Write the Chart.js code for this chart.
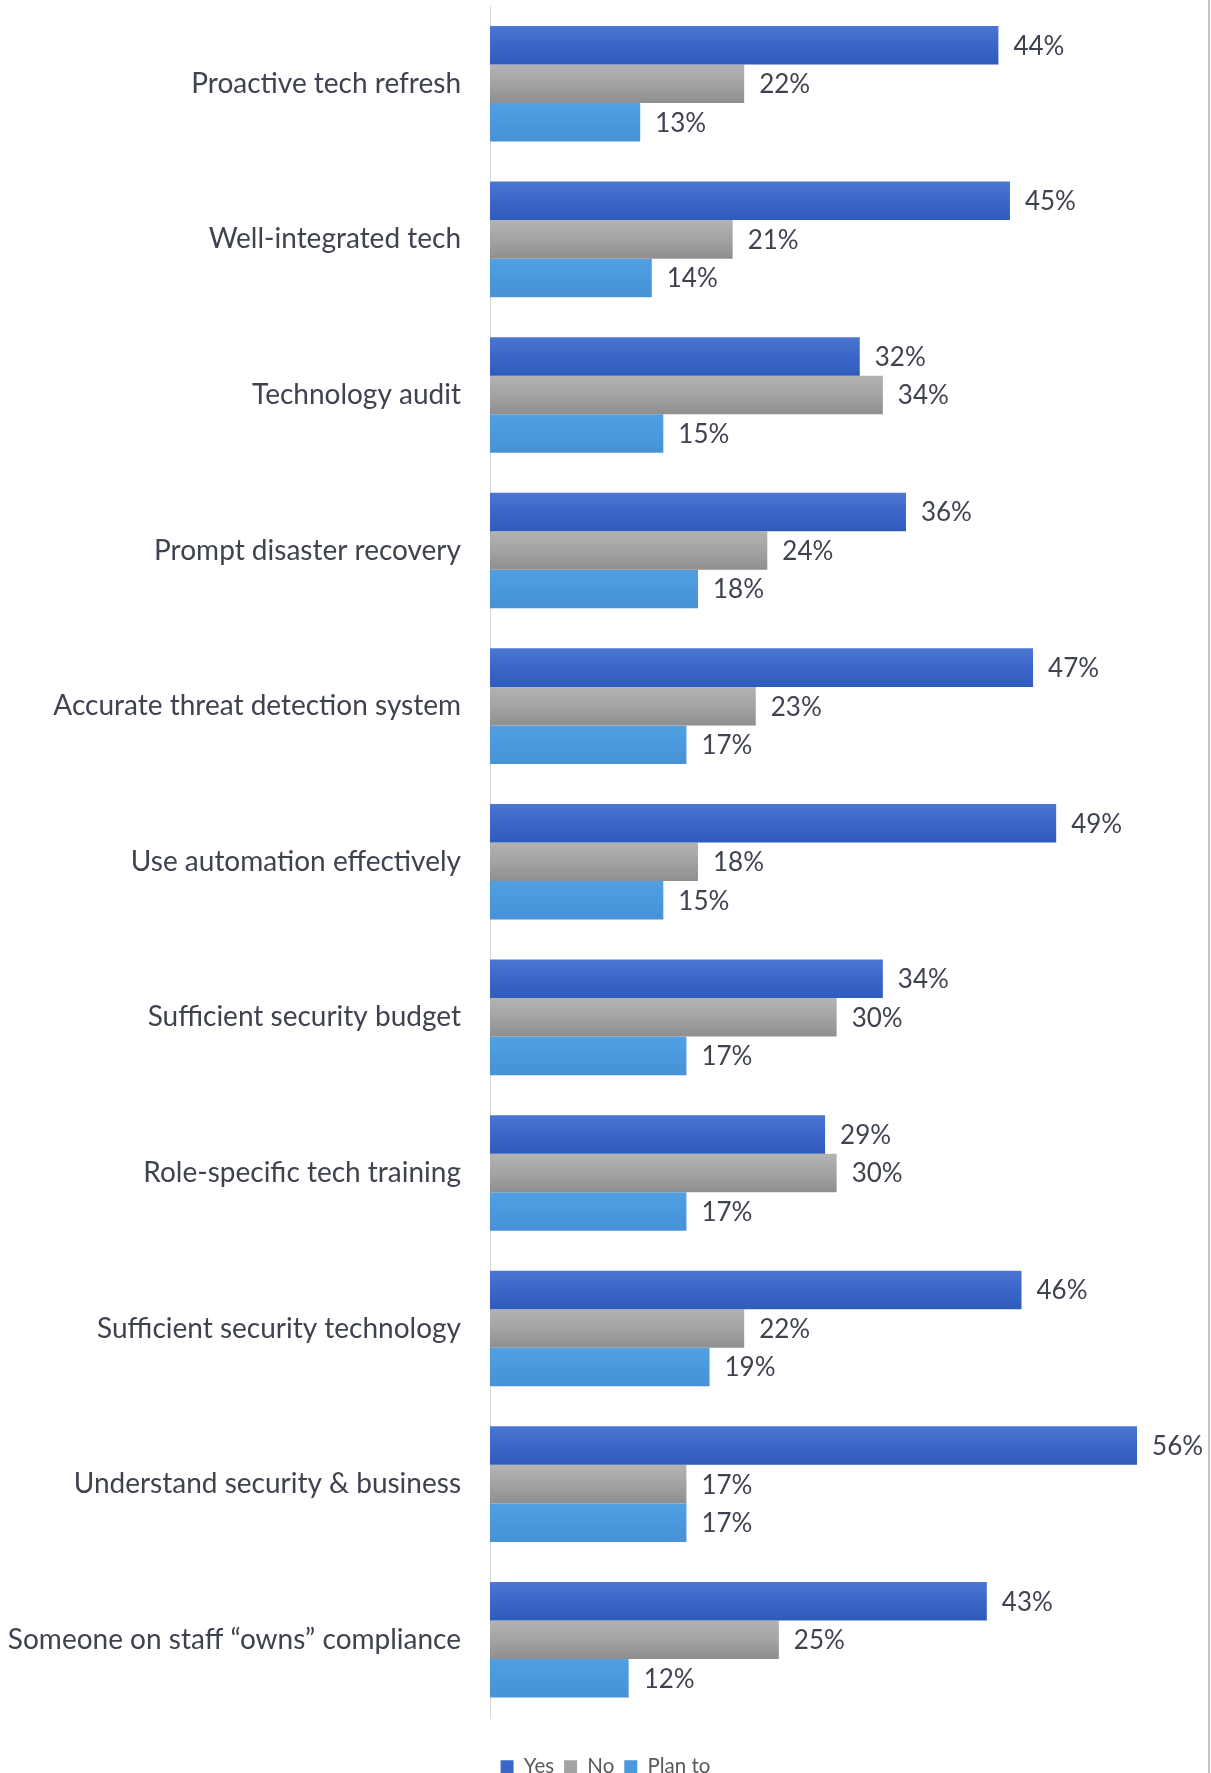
<!DOCTYPE html>
<html>
<head>
<meta charset="utf-8">
<script src="https://cdn.jsdelivr.net/npm/chart.js@4"></script>
<style>
html,body{margin:0;padding:0;background:#fff;}
#wrap{position:relative;width:1211px;height:1773px;}
</style>
</head>
<body>
<div id="wrap"><canvas id="c" width="1211" height="1773"></canvas></div>
<script>
const categories = [
  "Proactive tech refresh",
  "Well-integrated tech",
  "Technology audit",
  "Prompt disaster recovery",
  "Accurate threat detection system",
  "Use automation effectively",
  "Sufficient security budget",
  "Role-specific tech training",
  "Sufficient security technology",
  "Understand security & business",
  "Someone on staff \u201cowns\u201d compliance"
];
const seriesNames = ["Yes", "No", "Plan to"];
const yesValues  = [44, 45, 32, 36, 47, 49, 34, 29, 46, 56, 43];
const noValues   = [22, 21, 34, 24, 23, 18, 30, 30, 22, 17, 25];
const planValues = [13, 14, 15, 18, 17, 15, 17, 17, 19, 17, 12];
const colors = ["#3b66c9", "#a3a3a3", "#4a98de"];
const gradTop = ["#4b77d2", "#b3b3b3", "#52a0e3"];
const gradBottom = ["#2f5bbd", "#8f8f8f", "#4792d6"];

const FONT = "Lato, 'Open Sans', sans-serif";
const TEXT = "#3f4350";
const CAT_PCT = 0.743;

function barFill(c) {
  const chart = c.chart;
  const area = chart.chartArea;
  const ys = chart.scales && chart.scales.y;
  const i = c.datasetIndex;
  if (!area || !ys || c.dataIndex === undefined) return colors[i];
  const catH = (area.bottom - area.top) / categories.length;
  const th = catH * CAT_PCT / 3;
  const cy = ys.getPixelForValue(c.dataIndex) + (i - 1) * th;
  const g = chart.ctx.createLinearGradient(0, cy - th / 2, 0, cy + th / 2);
  g.addColorStop(0, gradTop[i]);
  g.addColorStop(0.5, colors[i]);
  g.addColorStop(1, gradBottom[i]);
  return g;
}

const valueLabels = {
  id: "valueLabels",
  afterDatasetsDraw(chart) {
    const ctx = chart.ctx;
    ctx.save();
    ctx.font = "26px " + FONT;
    ctx.fillStyle = TEXT;
    ctx.textBaseline = "middle";
    ctx.textAlign = "left";
    chart.data.datasets.forEach((ds, i) => {
      chart.getDatasetMeta(i).data.forEach((bar, j) => {
        ctx.fillText(ds.data[j] + "%", bar.x + 15, bar.y + 1);
      });
    });
    ctx.restore();
  }
};
const frameLine = {
  id: "frameLine",
  afterDraw(chart) {
    const ctx = chart.ctx;
    ctx.save();
    ctx.strokeStyle = "#c4c4c4";
    ctx.lineWidth = 2;
    ctx.beginPath();
    ctx.moveTo(1209, 0);
    ctx.lineTo(1209, chart.height);
    ctx.stroke();
    ctx.restore();
  }
};

new Chart(document.getElementById("c"), {
  type: "bar",
  data: {
    labels: categories,
    datasets: [
      { label: seriesNames[0], data: yesValues,  backgroundColor: barFill },
      { label: seriesNames[1], data: noValues,   backgroundColor: barFill },
      { label: seriesNames[2], data: planValues, backgroundColor: barFill }
    ]
  },
  options: {
    indexAxis: "y",
    responsive: false,
    animation: false,
    layout: { padding: { top: 6, right: 0, left: 0, bottom: -14 } },
    datasets: { bar: { categoryPercentage: CAT_PCT, barPercentage: 1.0, borderWidth: 0 } },
    scales: {
      x: {
        min: 0, max: 62.4,
        display: true,
        grid: { display: false, drawTicks: false },
        border: { display: false },
        ticks: { display: false },
        afterFit(scale) { scale.height = 29; scale.paddingLeft = 0; scale.paddingRight = 0; }
      },
      y: {
        grid: { display: false, drawTicks: false },
        border: { display: true, color: "#d9d9d9", width: 1 },
        ticks: { color: TEXT, font: { family: FONT, size: 28 }, padding: 29 },
        afterFit(scale) { scale.width = 490; scale.paddingTop = 0; scale.paddingBottom = 0; }
      }
    },
    plugins: {
      legend: {
        position: "bottom",
        labels: {
          color: "#595959",
          font: { family: FONT, size: 20.5 },
          boxWidth: 13, boxHeight: 13,
          padding: 10,
          generateLabels(chart) {
            return seriesNames.map((n, i) => ({
              text: n, fillStyle: colors[i], strokeStyle: colors[i],
              lineWidth: 0, hidden: false, datasetIndex: i, fontColor: "#595959"
            }));
          }
        }
      },
      tooltip: { enabled: false }
    }
  },
  plugins: [valueLabels, frameLine]
});
</script>
</body>
</html>
